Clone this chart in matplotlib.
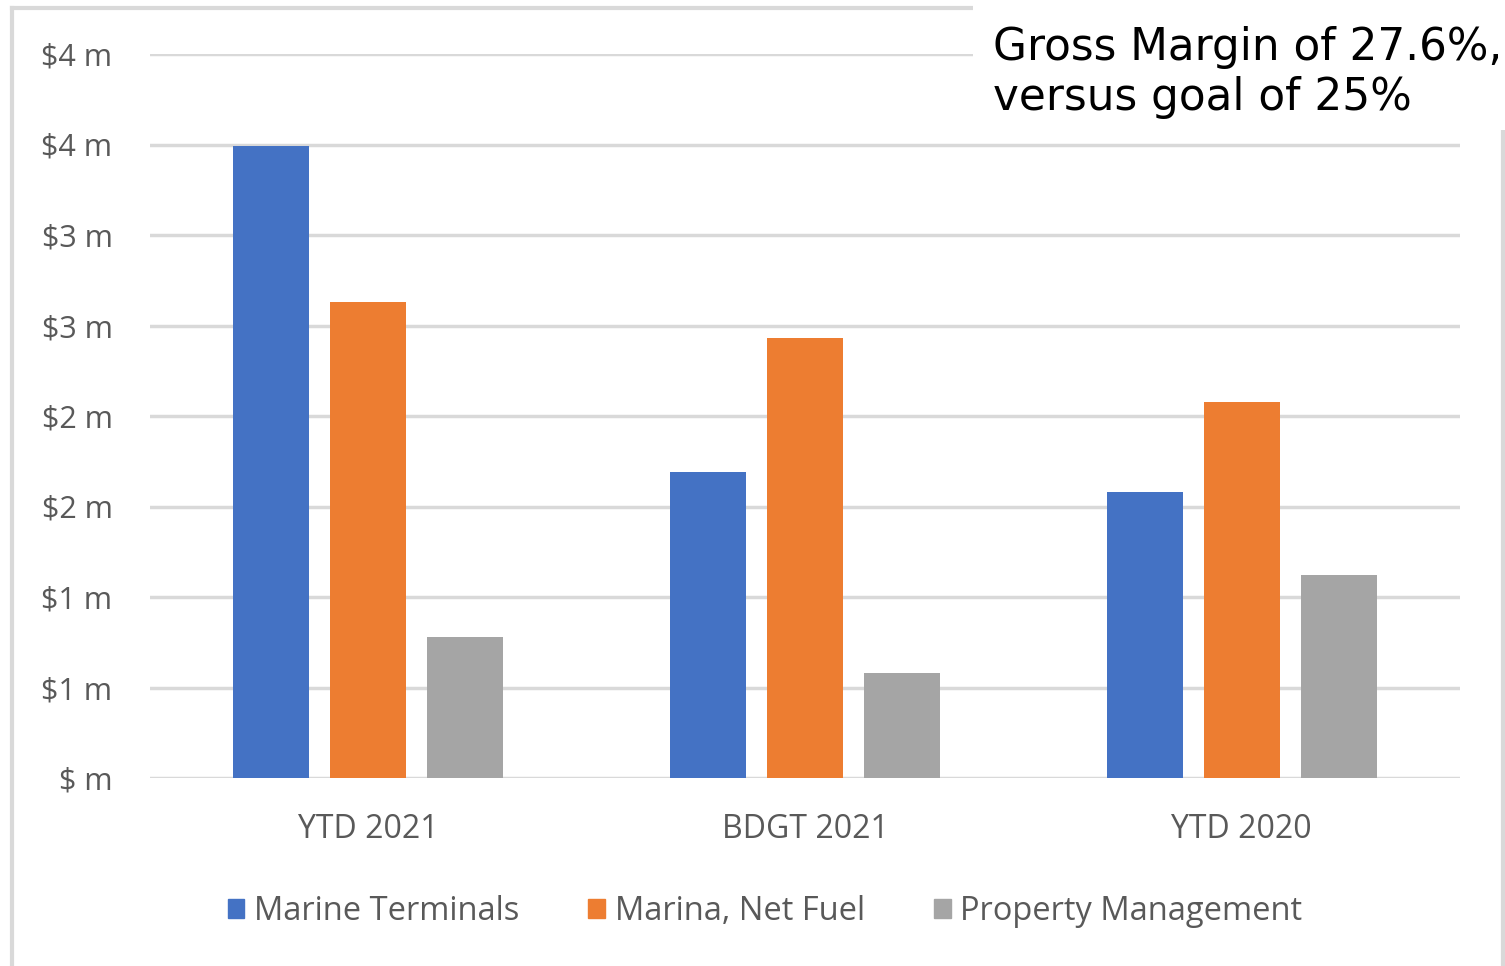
import numpy as np
import matplotlib.pyplot as plt
from matplotlib.patches import Rectangle
from matplotlib.lines import Line2D

# data (values in $ millions)
categories = ["YTD 2021", "BDGT 2021", "YTD 2020"]
series = ["Marine Terminals", "Marina, Net Fuel", "Property Management"]
marine_terminals = [3.49, 1.69, 1.58]
marina_net_fuel = [2.63, 2.43, 2.08]
property_mgmt = [0.78, 0.58, 1.12]
colors = ["#4472c4", "#ed7d31", "#a5a5a5"]

ytick_vals = [0, 0.5, 1.0, 1.5, 2.0, 2.5, 3.0, 3.5, 4.0]
ytick_labels = ["$ m", "$1 m", "$1 m", "$2 m", "$2 m", "$3 m", "$3 m", "$4 m", "$4 m"]

note = "Gross Margin of 27.6%,\nversus goal of 25%"

plt.rcParams["font.family"] = ["Open Sans", "DejaVu Sans"]

W, H = 1505, 966
fig = plt.figure(figsize=(W / 100, H / 100), dpi=100)
ax = fig.add_axes([150 / W, 1 - 778 / H, 1310 / W, 724 / H])

x = np.arange(len(categories))
width = 0.174
step = 0.222
for i, (vals, name) in enumerate(zip([marine_terminals, marina_net_fuel, property_mgmt], series)):
    ax.bar(x + (i - 1) * step, vals, width, color=colors[i], label=name, zorder=3)

ax.set_xlim(-0.5, 2.5)
ax.set_ylim(0, 4.0)
ax.set_yticks(ytick_vals)
ax.set_yticklabels(ytick_labels)
ax.set_xticks(x)
ax.set_xticklabels(categories)
ax.grid(axis="y", color="#d9d9d9", linewidth=2.5, zorder=0)
ax.tick_params(length=0, labelsize=22, colors="#595959")
ax.tick_params(axis="x", labelsize=23)
ax.tick_params(axis="y", pad=27)
ax.tick_params(axis="x", pad=25)
for s in ax.spines.values():
    s.set_visible(False)

# legend
handles = [Rectangle((0, 0), 1, 1, color=c) for c in colors]
fig.legend(handles, series, loc="center", bbox_to_anchor=(765 / W, 1 - 912 / H), ncol=3,
           frameon=False, fontsize=23.5, labelcolor="#595959", handlelength=0.52,
           handleheight=0.52, handletextpad=0.3, columnspacing=2.1)

# chart border
bc = "#d9d9d9"
fig.add_artist(Line2D([12 / W, 12 / W], [0, 1 - 8 / H], color=bc, lw=3))
fig.add_artist(Line2D([12 / W, 1503 / W], [1 - 8 / H, 1 - 8 / H], color=bc, lw=3))
fig.add_artist(Line2D([1503 / W, 1503 / W], [0, 1 - 8 / H], color=bc, lw=3))

# text box over the top right corner
fig.add_artist(Rectangle((973 / W, 1 - 130 / H), (W - 973) / W, 130 / H,
                         transform=fig.transFigure, facecolor="white", edgecolor="none", zorder=5))
fig.text(993 / W, 1 - 26 / H, note, fontsize=31.5, family="DejaVu Sans", color="black",
         va="top", ha="left", linespacing=1.2, zorder=6)

fig.savefig("out.png", dpi=100)
